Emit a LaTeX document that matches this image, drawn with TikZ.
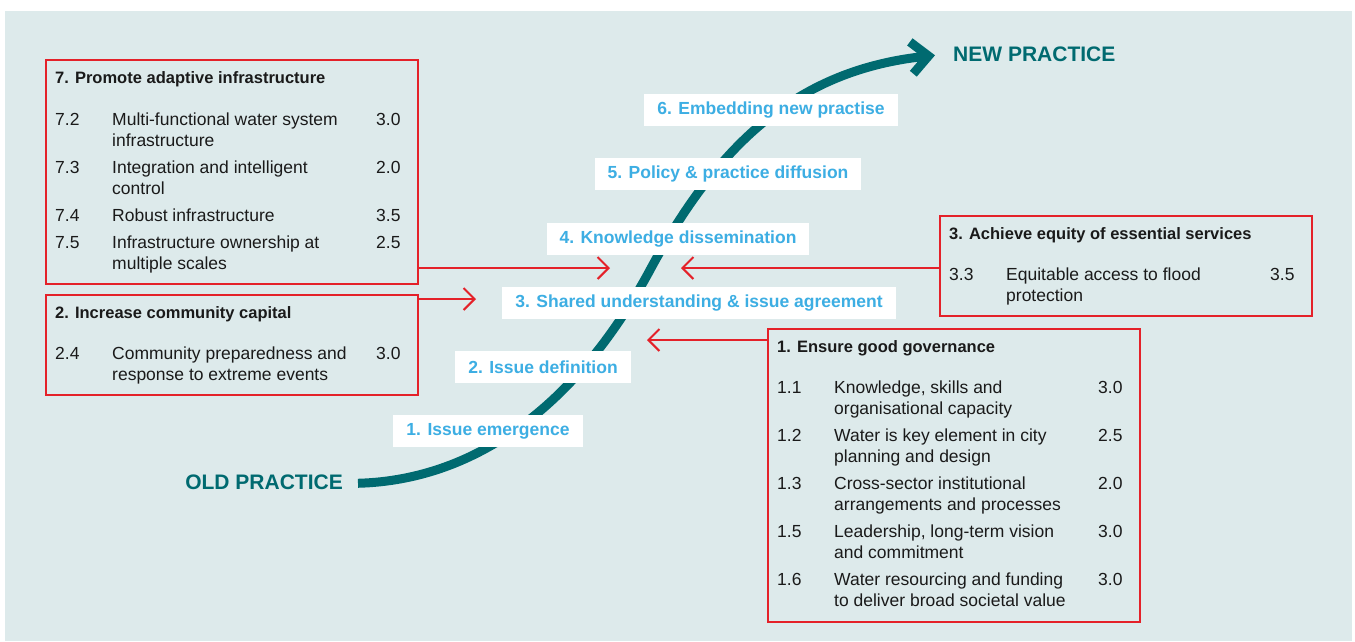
\documentclass[tikz,border=0pt]{standalone}
\usepackage{fontspec}
\setmainfont{Liberation Sans}
\usetikzlibrary{calc,arrows.meta}
\definecolor{bgblue}{HTML}{DDEAEB}
\definecolor{outcomered}{HTML}{E42129}
\definecolor{stageblue}{HTML}{3DAEE3}
\definecolor{practiceteal}{HTML}{006A70}
\definecolor{darktext}{HTML}{1A1A1A}

\begin{document}
\begin{tikzpicture}[x=1pt,y=-1pt,
  catbox/.style={draw=outcomered,line width=2.4pt,anchor=north west,minimum width=372pt,inner sep=0pt,outer sep=0pt},
  cattitle/.style={anchor=base west,inner sep=0pt,text=darktext,font=\fontsize{16.5}{20}\selectfont\bfseries},
  catrow/.style={anchor=base west,inner sep=0pt,text=darktext,font=\fontsize{17.5}{21}\selectfont},
  stage/.style={fill=white,text=stageblue,inner xsep=13pt,minimum height=32pt,font=\fontsize{17.5}{21}\selectfont\bfseries},
  practice/.style={inner sep=0pt,text=practiceteal,font=\fontsize{21}{25}\selectfont\bfseries},
  link/.style={draw=outcomered,line width=2pt,-{Straight Barb[length=11pt,width=22pt]}}]
\useasboundingbox (0,0) rectangle (1355,641);
\fill[bgblue] (5,11) rectangle (1352,641);

% old and new practice
\node [practice,anchor=base east] (OldPractice) at (343,489) {OLD PRACTICE};
\node [practice,anchor=base west] (NewPractice) at (953,61) {NEW PRACTICE};
\draw [practiceteal,line width=9pt,-{Straight Barb[length=17pt,width=32pt]}] ([xshift=15pt,yshift=-1.5pt]OldPractice.east) .. controls (480,480) and (580,400) .. (650,270) .. controls (720,140) and (800,70) .. ([xshift=-18pt,yshift=-1.5pt]NewPractice.west);

% stages
\node [stage] (Stage1) at (488,431) {1. Issue emergence};
\node [stage] (Stage2) at (543,367) {2. Issue definition};
\node [stage] (Stage3) at (699,303) {3. Shared understanding \& issue agreement};
\node [stage] (Stage4) at (678,239) {4. Knowledge dissemination};
\node [stage] (Stage5) at (728,174) {5. Policy \& practice diffusion};
\node [stage] (Stage6) at (771,110) {6. Embedding new practise};

% outcome 7
\node [catbox,minimum height=224pt] (Box7) at (46,60) {};
\node [cattitle] (Box7Title) at ($(Box7.north west)+(9,23)$) {7. Promote adaptive infrastructure};
\node [catrow] (Row72) at ($(Box7.north west)+(9,65)$) {\makebox[57pt][l]{7.2}\parbox[t]{264pt}{Multi-functional water system\\infrastructure}3.0};
\node [catrow] (Row73) at ($(Box7.north west)+(9,113)$) {\makebox[57pt][l]{7.3}\parbox[t]{264pt}{Integration and intelligent\\control}2.0};
\node [catrow] (Row74) at ($(Box7.north west)+(9,161)$) {\makebox[57pt][l]{7.4}\parbox[t]{264pt}{Robust infrastructure}3.5};
\node [catrow] (Row75) at ($(Box7.north west)+(9,188)$) {\makebox[57pt][l]{7.5}\parbox[t]{264pt}{Infrastructure ownership at\\multiple scales}2.5};

% outcome 2
\node [catbox,minimum height=100pt] (Box2) at (46,295) {};
\node [cattitle] (Box2Title) at ($(Box2.north west)+(9,23)$) {2. Increase community capital};
\node [catrow] (Row24) at ($(Box2.north west)+(9,64)$) {\makebox[57pt][l]{2.4}\parbox[t]{264pt}{Community preparedness and\\response to extreme events}3.0};

% outcome 3
\node [catbox,minimum height=100pt] (Box3) at (940,216) {};
\node [cattitle] (Box3Title) at ($(Box3.north west)+(9,23)$) {3. Achieve equity of essential services};
\node [catrow] (Row33) at ($(Box3.north west)+(9,64)$) {\makebox[57pt][l]{3.3}\parbox[t]{264pt}{Equitable access to flood\\protection}3.5};

% outcome 1
\node [catbox,minimum height=293pt] (Box1) at (768,329) {};
\node [cattitle] (Box1Title) at ($(Box1.north west)+(9,23)$) {1. Ensure good governance};
\node [catrow] (Row11) at ($(Box1.north west)+(9,64)$) {\makebox[57pt][l]{1.1}\parbox[t]{264pt}{Knowledge, skills and\\organisational capacity}3.0};
\node [catrow] (Row12) at ($(Box1.north west)+(9,112)$) {\makebox[57pt][l]{1.2}\parbox[t]{264pt}{Water is key element in city\\planning and design}2.5};
\node [catrow] (Row13) at ($(Box1.north west)+(9,160)$) {\makebox[57pt][l]{1.3}\parbox[t]{264pt}{Cross-sector institutional\\arrangements and processes}2.0};
\node [catrow] (Row15) at ($(Box1.north west)+(9,208)$) {\makebox[57pt][l]{1.5}\parbox[t]{264pt}{Leadership, long-term vision\\and commitment}3.0};
\node [catrow] (Row16) at ($(Box1.north west)+(9,256)$) {\makebox[57pt][l]{1.6}\parbox[t]{264pt}{Water resourcing and funding\\to deliver broad societal value}3.0};

% links into the stages
\coordinate (Link7End) at (610,268);
\coordinate (Link2End) at (476,299);
\coordinate (Link3End) at (681,268);
\coordinate (Link1End) at (647,340);
\draw [link] (Box7.east |- Link7End) -- (Link7End);
\draw [link] (Box2.east |- Link2End) -- (Link2End);
\draw [link] (Box3.west |- Link3End) -- (Link3End);
\draw [link] (Box1.west |- Link1End) -- (Link1End);
\end{tikzpicture}
\end{document}
